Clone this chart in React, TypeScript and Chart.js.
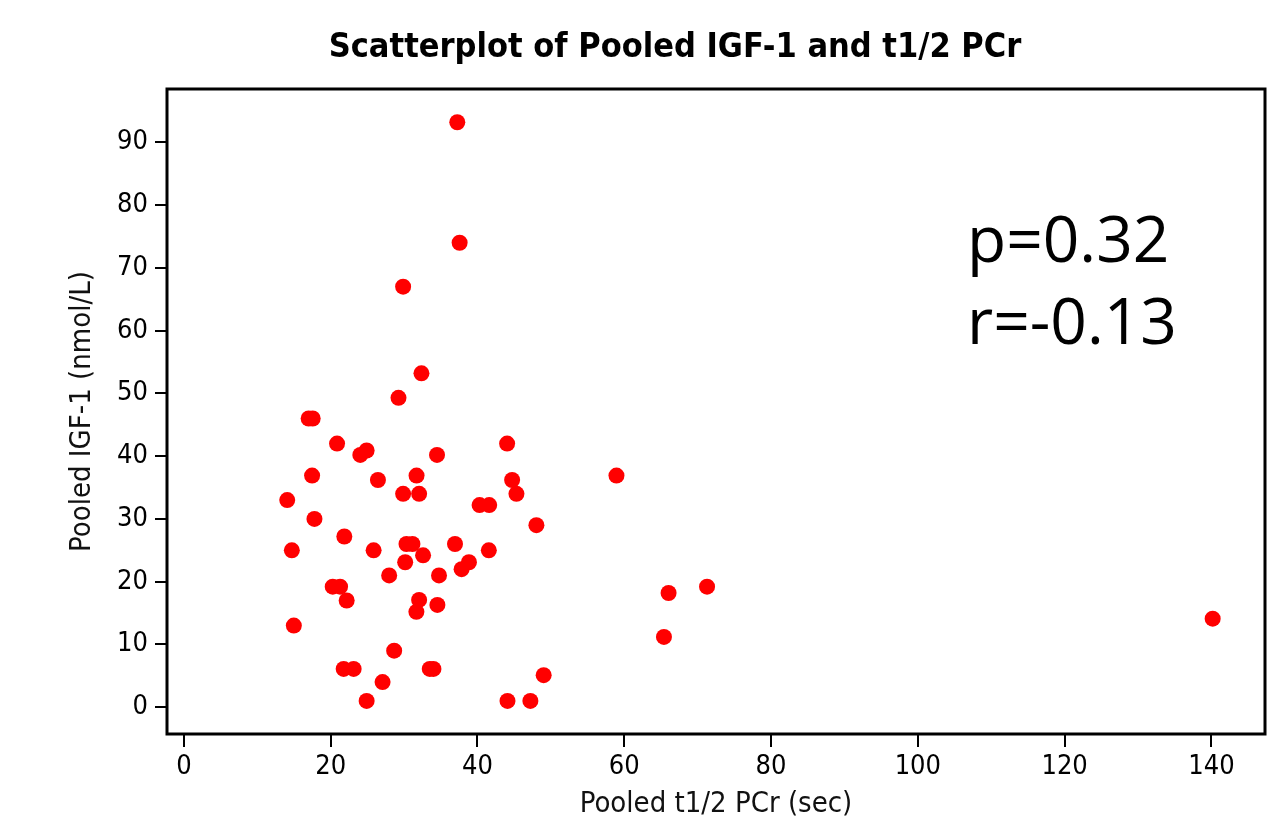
import React, { useEffect, useRef } from "react";
import { Chart, registerables } from "chart.js";

Chart.register(...registerables);

// Pooled t1/2 PCr (sec)
const xValues: number[] = [
  37.25, 37.57, 29.87, 32.37, 29.24, 17.0, 17.55, 20.87, 24.04, 24.9,
  34.49, 44.04, 17.47, 26.44, 31.7, 29.87, 32.05, 44.72, 45.31, 40.29,
  41.6, 14.08, 17.79, 48.03, 21.86, 14.71, 25.85, 30.33, 31.14, 32.59,
  36.94, 41.55, 30.15, 27.97, 34.76, 37.84, 38.84, 20.28, 21.28, 22.18,
  32.05, 31.68, 34.54, 14.98, 28.65, 21.77, 23.13, 33.5, 34.0, 27.07,
  24.9, 44.09, 47.21, 49.02, 58.94, 66.04, 65.41, 71.28, 140.17,
];
// Pooled IGF-1 (nmol/L)
const yValues: number[] = [
  93.2, 74.0, 67.0, 53.2, 49.3, 46.0, 46.0, 42.0, 40.2, 40.9,
  40.2, 42.0, 36.9, 36.2, 36.9, 34.0, 34.0, 36.2, 34.0, 32.2,
  32.2, 33.0, 30.0, 29.0, 27.2, 25.0, 25.0, 26.0, 26.0, 24.2,
  26.0, 25.0, 23.1, 21.0, 21.0, 22.0, 23.1, 19.2, 19.2, 17.0,
  17.1, 15.2, 16.3, 13.0, 9.0, 6.1, 6.1, 6.1, 6.1, 4.0,
  1.0, 1.0, 1.0, 5.1, 36.9, 18.2, 11.2, 19.2, 14.1,
];

const xTicks: number[] = [0, 20, 40, 60, 80, 100, 120, 140];
const yTicks: number[] = [0, 10, 20, 30, 40, 50, 60, 70, 80, 90];

const titleText = "Scatterplot of Pooled IGF-1 and t1/2 PCr";
const xTitle = "Pooled t1/2 PCr (sec)";
const yTitle = "Pooled IGF-1 (nmol/L)";
const annotLines: string[] = ["p=0.32", "r=-0.13"];
const annotX = 106.7;
const annotY: number[] = [71.0, 57.8];

const FONT = '"DejaVu Sans Condensed", "DejaVu Sans", sans-serif';

const framePlugin = {
  id: "frameAndText",
  afterDraw(chart: any) {
    const { ctx, chartArea, scales } = chart;
    ctx.save();
    ctx.strokeStyle = "#000";
    ctx.lineWidth = 3;
    ctx.strokeRect(chartArea.left, chartArea.top, chartArea.right - chartArea.left, chartArea.bottom - chartArea.top);
    ctx.fillStyle = "#000";
    ctx.font = `bold 34px ${FONT}`;
    ctx.textAlign = "center";
    ctx.textBaseline = "alphabetic";
    ctx.fillText(titleText, 675, 57);
    ctx.font = '64px "Open Sans", sans-serif';
    ctx.textAlign = "left";
    annotLines.forEach((t, i) => {
      ctx.fillText(t, scales.x.getPixelForValue(annotX), scales.y.getPixelForValue(annotY[i]));
    });
    ctx.restore();
  },
};

export default function App() {
  const ref = useRef<HTMLCanvasElement | null>(null);
  useEffect(() => {
    document.body.style.margin = "0";
    const canvas = ref.current!;
    const chart = new Chart(canvas, {
      type: "scatter",
      data: {
        datasets: [
          {
            data: xValues.map((x, i) => ({ x, y: yValues[i] })),
            backgroundColor: "#ff0000",
            borderColor: "#ff0000",
            borderWidth: 0,
            pointRadius: 8,
            pointHoverRadius: 8,
          },
        ],
      },
      options: {
        animation: false,
        responsive: false,
        devicePixelRatio: 1,
        layout: { padding: { top: 89, right: 3, left: 0, bottom: 0 } },
        plugins: { legend: { display: false }, tooltip: { enabled: false }, title: { display: false } },
        scales: {
          x: {
            type: "linear",
            min: -2.3,
            max: 147.3,
            afterBuildTicks: (s: any) => {
              s.ticks = xTicks.map((v) => ({ value: v }));
            },
            afterFit: (s: any) => {
              s.height = 94;
            },
            border: { display: false },
            grid: { drawOnChartArea: false, drawTicks: true, tickLength: 13, color: "#000", lineWidth: 2 },
            ticks: { color: "#000", font: { family: FONT, size: 27 }, padding: 4, maxRotation: 0, autoSkip: false },
            title: {
              display: true,
              text: xTitle,
              color: "#111",
              font: { family: FONT, size: 29 },
              padding: { top: 0, bottom: 6 },
            },
          },
          y: {
            type: "linear",
            min: -4.27,
            max: 98.5,
            afterBuildTicks: (s: any) => {
              s.ticks = yTicks.map((v) => ({ value: v }));
            },
            afterFit: (s: any) => {
              s.width = 167;
            },
            border: { display: false },
            grid: { drawOnChartArea: false, drawTicks: true, tickLength: 12, color: "#000", lineWidth: 2 },
            ticks: { color: "#000", font: { family: FONT, size: 27 }, padding: 7, autoSkip: false },
            title: {
              display: true,
              text: yTitle,
              color: "#111",
              font: { family: FONT, size: 29 },
              padding: { top: 65, bottom: 0 },
            },
          },
        },
      },
      plugins: [framePlugin],
    });
    return () => chart.destroy();
  }, []);
  return (
    <div style={{ width: 1273, height: 828, background: "#fff" }}>
      <canvas ref={ref} width={1273} height={828} style={{ display: "block" }} />
    </div>
  );
}
